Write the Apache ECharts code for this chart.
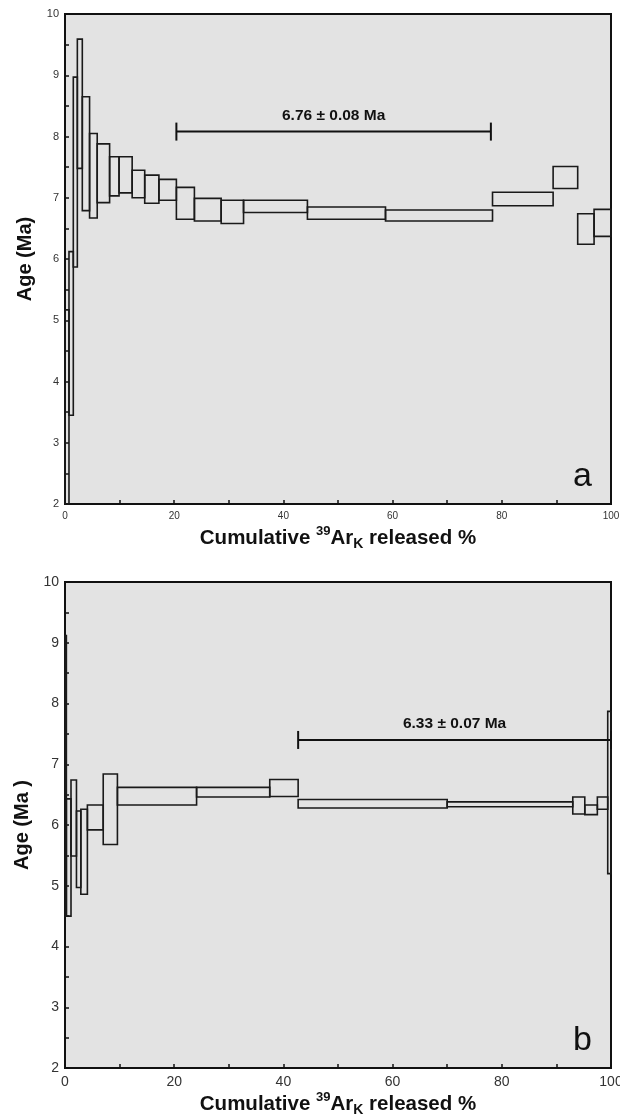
<!DOCTYPE html>
<html>
<head>
<meta charset="utf-8">
<script src="https://cdn.jsdelivr.net/npm/echarts@6/dist/echarts.min.js"></script>
<style>html,body{margin:0;padding:0;background:#fff}#c{width:620px;height:1120px}</style>
</head>
<body>
<div id="c"></div>
<script>
// ---- Data (panel a) : [cum% start, cum% end, age low, age high]
const stepsA = [
  [0, 0.73, 2.0, 5.17],
  [0.73, 1.52, 3.45, 6.12],
  [1.52, 2.26, 5.87, 8.97],
  [2.26, 3.17, 7.48, 9.59],
  [3.17, 4.5, 6.79, 8.65],
  [4.5, 5.9, 6.67, 8.05],
  [5.9, 8.17, 6.92, 7.88],
  [8.17, 9.9, 7.03, 7.67],
  [9.9, 12.3, 7.08, 7.67],
  [12.3, 14.6, 7.0, 7.45],
  [14.6, 17.2, 6.91, 7.37],
  [17.2, 20.4, 6.96, 7.30],
  [20.4, 23.7, 6.65, 7.17],
  [23.7, 28.6, 6.62, 6.99],
  [28.6, 32.7, 6.58, 6.96],
  [32.7, 44.4, 6.76, 6.96],
  [44.4, 58.7, 6.65, 6.85],
  [58.7, 78.3, 6.62, 6.80],
  [78.3, 89.4, 6.87, 7.09],
  [89.4, 93.9, 7.15, 7.51],
  [93.9, 96.9, 6.24, 6.74],
  [96.9, 100, 6.37, 6.81]
];
// ---- Data (panel b)
const stepsB = [
  [0, 0.25, 4.5, 9.12],
  [0.25, 1.1, 4.50, 6.43],
  [1.1, 2.1, 5.49, 6.74],
  [2.1, 2.9, 4.97, 6.23],
  [2.9, 4.1, 4.86, 6.26],
  [4.1, 7.0, 5.92, 6.33],
  [7.0, 9.6, 5.68, 6.84],
  [9.6, 24.1, 6.33, 6.62],
  [24.1, 37.5, 6.46, 6.62],
  [37.5, 42.7, 6.47, 6.75],
  [42.7, 70.0, 6.28, 6.42],
  [70.0, 93.0, 6.30, 6.38],
  [93.0, 95.2, 6.18, 6.46],
  [95.2, 97.5, 6.17, 6.33],
  [97.5, 99.4, 6.26, 6.46],
  [99.4, 100, 5.2, 7.87]
];
// plateau bars: [start %, end %, age position]
const plateauA = [[20.4, 78.0, 8.08]];
const plateauB = [[42.7, 100, 7.40]];
const plateauLabels = ['6.76 ± 0.08 Ma', '6.33 ± 0.07 Ma'];
const panelLetters = ['a', 'b'];
const yTitles = ['Age (Ma)', 'Age (Ma )'];
const xTitle = '{b|Cumulative }{sup|39}{b|Ar}{sub|K}{b| released %}';

const FONT = "'Liberation Sans', Arial, sans-serif";

function stepRender(params, api) {
  const p0 = api.coord([api.value(0), api.value(3)]);
  const p1 = api.coord([api.value(1), api.value(2)]);
  return {
    type: 'rect',
    shape: {x: p0[0], y: p0[1], width: p1[0] - p0[0], height: p1[1] - p0[1]},
    style: {fill: 'none', stroke: '#1a1a1a', lineWidth: 1.6}
  };
}
function plateauRender(labelText) {
  return function (params, api) {
    const a = api.coord([api.value(0), api.value(2)]);
    const b = api.coord([api.value(1), api.value(2)]);
    const cap = 9;
    return {
      type: 'group',
      children: [
        {type: 'line', shape: {x1: a[0], y1: a[1], x2: b[0], y2: b[1]}, style: {stroke: '#111', lineWidth: 2}},
        {type: 'line', shape: {x1: a[0], y1: a[1] - cap, x2: a[0], y2: a[1] + cap}, style: {stroke: '#111', lineWidth: 2}},
        {type: 'line', shape: {x1: b[0], y1: b[1] - cap, x2: b[0], y2: b[1] + cap}, style: {stroke: '#111', lineWidth: 2}},
        {type: 'text', style: {text: labelText, x: (a[0] + b[0]) / 2, y: a[1] - 16, align: 'center', verticalAlign: 'middle',
          font: 'bold 15.5px ' + FONT, fill: '#111'}}
      ]
    };
  };
}

const richX = {
  b: {fontSize: 20.5, fontWeight: 'bold', fontFamily: FONT, color: '#111', lineHeight: 26, verticalAlign: 'middle'},
  sup: {fontSize: 13, fontWeight: 'bold', fontFamily: FONT, color: '#111', lineHeight: 13, verticalAlign: 'top'},
  sub: {fontSize: 14, fontWeight: 'bold', fontFamily: FONT, color: '#111', lineHeight: 13, verticalAlign: 'bottom'}
};

function xAxis(idx, fs, gap) {
  return {
    gridIndex: idx, type: 'value', min: 0, max: 100, interval: 20,
    axisLine: {show: true, lineStyle: {color: '#111', width: 2}},
    axisTick: {show: true, inside: true, length: 4, lineStyle: {color: '#111', width: 1.5}},
    minorTick: {show: true, splitNumber: 2, length: 4, lineStyle: {color: '#111', width: 1.5}},
    splitLine: {show: false},
    axisLabel: {fontSize: fs, color: '#333', fontFamily: FONT, margin: 7,
      formatter: v => String(v)},
    name: xTitle, nameLocation: 'middle', nameGap: gap,
    nameTextStyle: {rich: richX}
  };
}
function yAxis(idx, fs, name) {
  return {
    gridIndex: idx, type: 'value', min: 2, max: 10, interval: 1,
    axisLine: {show: true, lineStyle: {color: '#111', width: 2}},
    axisTick: {show: true, inside: true, length: 4, lineStyle: {color: '#111', width: 1.5}},
    minorTick: {show: true, splitNumber: 2, length: 4, lineStyle: {color: '#111', width: 1.5}},
    splitLine: {show: false},
    axisLabel: {fontSize: fs, color: '#333', fontFamily: FONT, margin: 6},
    name: name, nameLocation: 'middle', nameGap: 24, nameRotate: 90,
    nameTextStyle: {fontSize: 20, fontWeight: 'bold', fontFamily: FONT, color: '#111'}
  };
}

const chart = echarts.init(document.getElementById('c'), null, {renderer: 'canvas'});
chart.setOption({
  animation: false,
  backgroundColor: '#fff',
  grid: [
    {left: 65, width: 546, top: 14, height: 490, outerBoundsMode: 'none', containLabel: false,
      show: true, backgroundColor: '#e3e3e3', borderColor: '#111', borderWidth: 2},
    {left: 65, width: 546, top: 582, height: 486, outerBoundsMode: 'none', containLabel: false,
      show: true, backgroundColor: '#e3e3e3', borderColor: '#111', borderWidth: 2}
  ],
  xAxis: [xAxis(0, 10, 21), xAxis(1, 14, 23)],
  yAxis: [yAxis(0, 11, yTitles[0]), yAxis(1, 14, yTitles[1])],
  series: [
    {type: 'custom', xAxisIndex: 0, yAxisIndex: 0, data: stepsA, renderItem: stepRender, clip: false, silent: true},
    {type: 'custom', xAxisIndex: 1, yAxisIndex: 1, data: stepsB, renderItem: stepRender, clip: false, silent: true},
    {type: 'custom', xAxisIndex: 0, yAxisIndex: 0, data: plateauA, renderItem: plateauRender(plateauLabels[0]), clip: false, silent: true},
    {type: 'custom', xAxisIndex: 1, yAxisIndex: 1, data: plateauB, renderItem: plateauRender(plateauLabels[1]), clip: false, silent: true}
  ],
  graphic: [
    {type: 'text', right: 28, top: 460, style: {text: panelLetters[0], font: '34px ' + FONT, fill: '#111'}},
    {type: 'text', right: 28, top: 1024, style: {text: panelLetters[1], font: '34px ' + FONT, fill: '#111'}}
  ]
});
</script>
</body>
</html>
